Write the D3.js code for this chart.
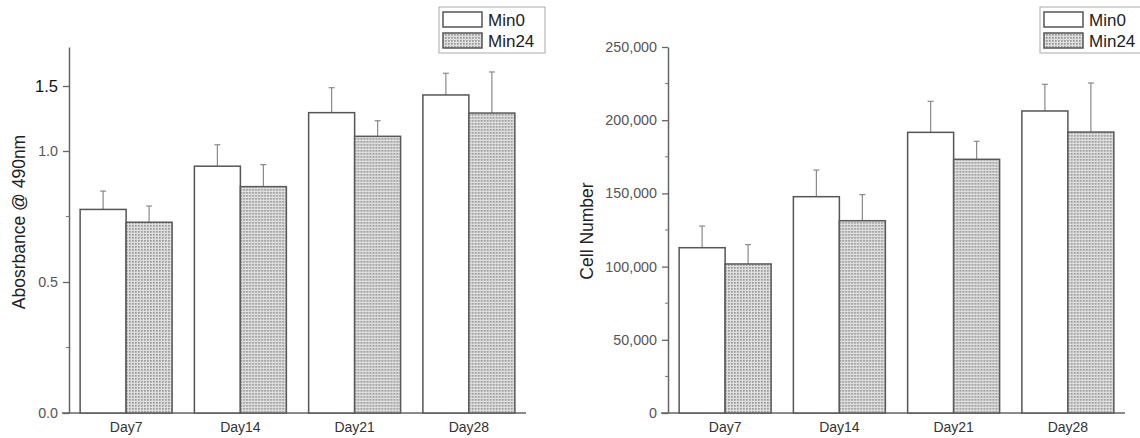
<!DOCTYPE html>
<html>
<head>
<meta charset="utf-8">
<script src="https://cdn.jsdelivr.net/npm/d3@7"></script>
<style>
  body { margin: 0; background: #fff; }
  svg { display: block; font-family: "Liberation Sans", Arial, sans-serif; }
</style>
</head>
<body>
<svg id="chart" width="1140" height="438"></svg>
<script>
const days = ["Day7", "Day14", "Day21", "Day28"];
const series = ["Min0", "Min24"];

// left panel: absorbance
const absMin0 = [0.777, 0.942, 1.295, 1.431];
const absMin24 = [0.728, 0.864, 1.113, 1.292];
const absErrMin0 = [0.070, 0.106, 0.192, 0.167];
const absErrMin24 = [0.062, 0.084, 0.120, 0.316];
const absTicks = [0, 0.5, 1.0, 1.5];
const absMinorTicks = [0.25, 0.75];

// right panel: cell number
const cellMin0 = [112900, 147750, 191700, 206300];
const cellMin24 = [101800, 131350, 173300, 191900];
const cellErrMin0 = [14800, 18200, 21200, 18200];
const cellErrMin24 = [13200, 17800, 12300, 33500];
const cellTicks = [0, 50000, 100000, 150000, 200000, 250000];
const cellMinorTicks = [25000, 75000, 125000, 175000, 225000];

const svg = d3.select("#chart");

// dotted grey fill of the Min24 bars
const defs = svg.append("defs");
const pat = defs.append("pattern")
  .attr("id", "dots")
  .attr("width", 3).attr("height", 3)
  .attr("patternUnits", "userSpaceOnUse");
pat.append("rect").attr("width", 3).attr("height", 3).attr("fill", "#dedede");
pat.append("rect").attr("width", 1.7).attr("height", 1.7).attr("fill", "#9a9a9a");

function toRows(a, b, ea, eb) {
  return days.map((d, i) => ({
    day: d,
    vals: [
      { s: "Min0", v: a[i], e: ea[i] },
      { s: "Min24", v: b[i], e: eb[i] },
    ],
  }));
}

function drawPanel(opt) {
  const g = svg.append("g");
  const y = opt.y;

  const x0 = d3.scaleBand().domain(days).range([opt.left, opt.right]).padding(0);
  const x1 = d3.scaleBand().domain(series).range([0, x0.bandwidth()])
    .paddingInner(0).paddingOuter(0.242);

  // y axis
  const yAxis = g.append("g")
    .attr("transform", `translate(${opt.left},0)`)
    .call(d3.axisLeft(y).tickValues(opt.ticks).tickSize(6).tickSizeOuter(0)
      .tickPadding(5).tickFormat(opt.fmt));
  yAxis.select(".domain").attr("stroke", "#666").attr("stroke-width", 1.5);
  yAxis.selectAll(".tick line").attr("stroke", "#666").attr("stroke-width", 1.3);
  yAxis.selectAll(".tick text")
    .attr("fill", "#555")
    .style("font-size", "14.3px");
  if (opt.bigTop) {
    yAxis.selectAll(".tick text").filter((d) => d === opt.bigTop)
      .attr("fill", "#111").style("font-size", "16.5px");
  }

  g.append("g")
    .selectAll("line")
    .data(opt.minor)
    .join("line")
    .attr("x1", opt.left - 3).attr("x2", opt.left)
    .attr("y1", (d) => y(d)).attr("y2", (d) => y(d))
    .attr("stroke", "#777").attr("stroke-width", 1);

  // x axis
  const xAxis = g.append("g")
    .attr("transform", `translate(0,${y(0)})`)
    .call(d3.axisBottom(x0).tickSize(0).tickSizeOuter(0).tickPadding(9));
  xAxis.select(".domain").remove();
  xAxis.selectAll(".tick text").attr("fill", "#333").style("font-size", "14px");
  g.append("line")
    .attr("x1", opt.left - 7).attr("x2", opt.right)
    .attr("y1", y(0)).attr("y2", y(0))
    .attr("stroke", "#666").attr("stroke-width", 1.5);

  // axis title
  g.append("text")
    .attr("transform", `translate(${opt.titleX},${opt.titleY}) rotate(-90)`)
    .attr("text-anchor", "middle")
    .attr("fill", "#222")
    .style("font-size", opt.titleSize)
    .text(opt.title);

  // bars
  const grp = g.append("g")
    .selectAll("g")
    .data(opt.rows)
    .join("g")
    .attr("transform", (d) => `translate(${x0(d.day)},0)`);

  // error bars first so bar outline sits on top
  const err = grp.selectAll("g.err")
    .data((d) => d.vals)
    .join("g")
    .attr("class", "err")
    .attr("stroke", "#8a8a8a")
    .attr("stroke-width", 1.2);
  err.append("line")
    .attr("x1", (d) => x1(d.s) + x1.bandwidth() / 2)
    .attr("x2", (d) => x1(d.s) + x1.bandwidth() / 2)
    .attr("y1", (d) => y(d.v))
    .attr("y2", (d) => y(d.v + d.e));
  err.append("line")
    .attr("x1", (d) => x1(d.s) + x1.bandwidth() / 2 - 3)
    .attr("x2", (d) => x1(d.s) + x1.bandwidth() / 2 + 3)
    .attr("y1", (d) => y(d.v + d.e))
    .attr("y2", (d) => y(d.v + d.e));

  grp.selectAll("rect")
    .data((d) => d.vals)
    .join("rect")
    .attr("x", (d) => x1(d.s))
    .attr("y", (d) => y(d.v))
    .attr("width", x1.bandwidth())
    .attr("height", (d) => y(0) - y(d.v))
    .attr("fill", (d) => (d.s === "Min0" ? "#fff" : "url(#dots)"))
    .attr("stroke", (d) => (d.s === "Min0" ? "#555" : "#5a5a5a"))
    .attr("stroke-width", 1.5);

  // legend
  const lg = g.append("g").attr("transform", `translate(${opt.legendX},7)`);
  lg.append("rect")
    .attr("x", 0).attr("y", 0)
    .attr("width", opt.legendW).attr("height", 46)
    .attr("fill", "#fff").attr("stroke", "#aaa").attr("stroke-width", 1);
  series.forEach((s, i) => {
    lg.append("rect")
      .attr("x", 4).attr("y", 5 + i * 21)
      .attr("width", 39).attr("height", 15)
      .attr("fill", s === "Min0" ? "#fff" : "url(#dots)")
      .attr("stroke", "#555").attr("stroke-width", 1.5);
    lg.append("text")
      .attr("x", 49).attr("y", 19 + i * 21)
      .attr("fill", "#222")
      .style("font-size", "17px")
      .text(s);
  });
}

drawPanel({
  left: 69, right: 526,
  y: d3.scaleLinear().domain([0, 1, 1.8]).range([413, 151, 47]),
  ticks: absTicks, minor: absMinorTicks,
  fmt: d3.format(".1f"), bigTop: 1.5,
  rows: toRows(absMin0, absMin24, absErrMin0, absErrMin24),
  title: "Abosrbance @ 490nm", titleX: 25, titleY: 222, titleSize: "17.5px",
  legendX: 439, legendW: 106,
});

drawPanel({
  left: 668, right: 1125,
  y: d3.scaleLinear().domain([0, 250000]).range([413, 47]),
  ticks: cellTicks, minor: cellMinorTicks,
  fmt: d3.format(","),
  rows: toRows(cellMin0, cellMin24, cellErrMin0, cellErrMin24),
  title: "Cell Number", titleX: 593, titleY: 231, titleSize: "17.5px",
  legendX: 1040, legendW: 106,
});
</script>
</body>
</html>
